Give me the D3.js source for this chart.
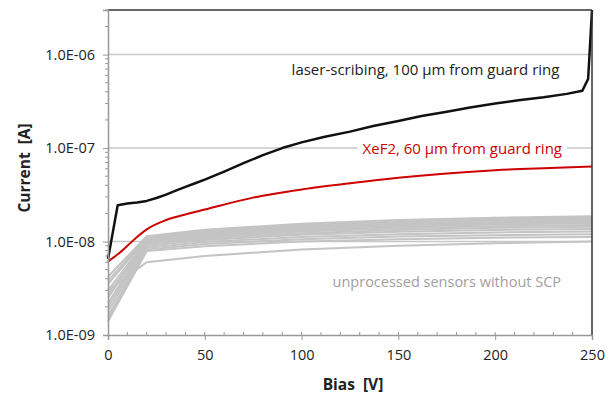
<!DOCTYPE html>
<html>
<head>
<meta charset="utf-8">
<script src="https://cdn.jsdelivr.net/npm/d3@7"></script>
<style>
  body { margin: 0; background: #fff; }
  svg { font-family: "Open Sans", sans-serif; }
</style>
</head>
<body>
<svg id="chart" width="616" height="396"></svg>
<script>
// Bias values (V) and currents (A)
const laserBias = [0, 5, 10, 15, 20, 25, 30, 35, 40, 45, 50, 60, 70, 80, 90, 100, 112, 125, 137, 150, 162, 175, 187, 200, 212, 225, 237, 245, 248, 250];
const laserCurrent = [6.5e-9, 2.45e-8, 2.55e-8, 2.62e-8, 2.72e-8, 2.92e-8, 3.18e-8, 3.5e-8, 3.85e-8, 4.2e-8, 4.6e-8, 5.6e-8, 6.9e-8, 8.4e-8, 1.0e-7, 1.15e-7, 1.32e-7, 1.5e-7, 1.72e-7, 1.95e-7, 2.2e-7, 2.45e-7, 2.72e-7, 3.0e-7, 3.25e-7, 3.5e-7, 3.8e-7, 4.1e-7, 5.5e-7, 3e-6];

const xef2Bias = [0, 5, 10, 15, 20, 30, 40, 50, 75, 100, 125, 150, 175, 200, 225, 250];
const xef2Current = [6.1e-9, 7.3e-9, 9.0e-9, 1.12e-8, 1.35e-8, 1.7e-8, 1.95e-8, 2.2e-8, 2.95e-8, 3.6e-8, 4.2e-8, 4.8e-8, 5.35e-8, 5.8e-8, 6.1e-8, 6.35e-8];

// unprocessed sensors, values in units of 1e-8 A
const refBias = [0, 20, 50, 100, 150, 200, 250];
const refCurrents = [
    [0.42, 1.14, 1.34, 1.55, 1.70, 1.80, 1.86],
    [0.38, 1.10, 1.30, 1.50, 1.64, 1.74, 1.80],
    [0.35, 1.08, 1.26, 1.45, 1.58, 1.68, 1.74],
    [0.30, 1.05, 1.22, 1.40, 1.53, 1.62, 1.68],
    [0.27, 1.02, 1.18, 1.36, 1.48, 1.57, 1.62],
    [0.25, 1.00, 1.15, 1.32, 1.44, 1.52, 1.57],
    [0.22, 0.97, 1.12, 1.28, 1.39, 1.46, 1.50],
    [0.20, 0.94, 1.08, 1.23, 1.33, 1.40, 1.44],
    [0.18, 0.90, 1.04, 1.18, 1.27, 1.33, 1.36],
    [0.16, 0.86, 0.99, 1.12, 1.20, 1.25, 1.28],
    [0.15, 0.82, 0.94, 1.06, 1.13, 1.17, 1.20],
    [0.14, 0.79, 0.89, 1.00, 1.06, 1.10, 1.12],
    [0.30, 0.60, 0.70, 0.82, 0.90, 0.96, 1.00]
];

const xTicks = [0, 50, 100, 150, 200, 250];
const yTicks = [1e-9, 1e-8, 1e-7, 1e-6];

const svg = d3.select("#chart");
const margin = { top: 10, right: 24, bottom: 61, left: 108 };
const width = 616 - margin.left - margin.right;
const height = 396 - margin.top - margin.bottom;

const x = d3.scaleLinear().domain([0, 250]).range([0, width]);
const y = d3.scaleLog().domain([1e-9, 3e-6]).range([height, 0]);

const g = svg.append("g")
    .attr("transform", `translate(${margin.left},${margin.top})`);

// Decade gridlines
g.selectAll(".grid")
    .data(yTicks.slice(1))
    .enter().append("line")
    .attr("x1", 0).attr("x2", width)
    .attr("y1", d => y(d)).attr("y2", d => y(d))
    .attr("stroke", "#c8c8c8")
    .attr("stroke-width", 1.5);

// Y minor ticks (log)
const minor = [];
for (let e = -9; e < -5; e++) {
    for (let m = 2; m <= 9; m++) {
        const v = m * Math.pow(10, e);
        if (v <= 3e-6) minor.push(v);
    }
}
g.selectAll(".ymin")
    .data(minor)
    .enter().append("line")
    .attr("x1", -3).attr("x2", 0)
    .attr("y1", d => y(d)).attr("y2", d => y(d))
    .attr("stroke", "#999");

// X minor ticks every 10 V
g.selectAll(".xmin")
    .data(d3.range(10, 250, 10))
    .enter().append("line")
    .attr("x1", d => x(d)).attr("x2", d => x(d))
    .attr("y1", height - 3).attr("y2", height)
    .attr("stroke", "#999");

// Text annotations with white backgrounds
const labels = [
    { text: "laser-scribing, 100 \u00b5m from guard ring", bx: 164, v: 6.0e-7, color: "#222", size: 15 },
    { text: "XeF2, 60 \u00b5m from guard ring", bx: 183, v: 8.7e-8, color: "#cc0000", size: 15 },
    { text: "unprocessed sensors without SCP", bx: 175, v: 3.3e-9, color: "#a0a0a0", size: 14.5 }
];

const labelG = g.append("g");
labels.forEach(l => {
    const t = labelG.append("text")
        .attr("x", x(l.bx))
        .attr("y", y(l.v))
        .attr("text-anchor", "middle")
        .attr("font-size", l.size)
        .attr("fill", l.color)
        .text(l.text);
    const bb = t.node().getBBox();
    labelG.insert("rect", "text")
        .attr("x", bb.x - 5).attr("y", bb.y)
        .attr("width", bb.width + 10).attr("height", bb.height)
        .attr("fill", "#fff");
});

const line = d3.line()
    .x(d => x(d[0]))
    .y(d => y(d[1]));

// Unprocessed sensors
refCurrents.forEach(vals => {
    g.append("path")
        .datum(refBias.map((b, i) => [b, vals[i] * 1e-8]))
        .attr("fill", "none")
        .attr("stroke", "#c4c4c4")
        .attr("stroke-width", 2)
        .attr("d", line);
});

g.append("path")
    .datum(xef2Bias.map((b, i) => [b, xef2Current[i]]))
    .attr("fill", "none")
    .attr("stroke", "#cc0000")
    .attr("stroke-width", 2)
    .attr("d", line.curve(d3.curveMonotoneX));

g.append("path")
    .datum(laserBias.map((b, i) => [b, laserCurrent[i]]))
    .attr("fill", "none")
    .attr("stroke", "#111")
    .attr("stroke-width", 2.5)
    .attr("stroke-linejoin", "round")
    .attr("d", line.curve(d3.curveLinear));

// Frame: top and right dark, left and bottom gray axes
g.append("line").attr("x1", 0).attr("x2", width).attr("y1", 0).attr("y2", 0)
    .attr("stroke", "#333").attr("stroke-width", 1.5);
g.append("line").attr("x1", width).attr("x2", width).attr("y1", 0).attr("y2", height)
    .attr("stroke", "#333").attr("stroke-width", 1.5);

const xAxis = g.append("g")
    .attr("transform", `translate(0,${height})`)
    .call(d3.axisBottom(x).tickValues(xTicks).tickSize(5).tickFormat(d3.format("d")));
const yAxis = g.append("g")
    .call(d3.axisLeft(y).tickValues(yTicks).tickSize(5)
        .tickFormat(d => "1.0E-0" + (-Math.round(Math.log10(d)))));

[xAxis, yAxis].forEach(a => {
    a.select(".domain").attr("stroke", "#999").attr("stroke-width", 1.5);
    a.selectAll(".tick line").attr("stroke", "#999");
    a.selectAll(".tick text")
        .attr("font-family", "Open Sans, sans-serif")
        .attr("font-size", 14.5)
        .attr("fill", "#222");
});
xAxis.selectAll(".tick text").attr("dy", "1.2em");
yAxis.selectAll(".tick text").attr("x", -13);

// Axis titles
svg.append("text")
    .attr("x", 353)
    .attr("y", 390)
    .attr("text-anchor", "middle")
    .attr("font-size", 15.5)
    .attr("font-weight", "bold")
    .attr("fill", "#222")
    .attr("xml:space", "preserve")
    .text("Bias  [V]");

svg.append("text")
    .attr("transform", `translate(30,168) rotate(-90)`)
    .attr("text-anchor", "middle")
    .attr("font-size", 15.5)
    .attr("font-weight", "bold")
    .attr("fill", "#222")
    .attr("xml:space", "preserve")
    .text("Current  [A]");
</script>
</body>
</html>
